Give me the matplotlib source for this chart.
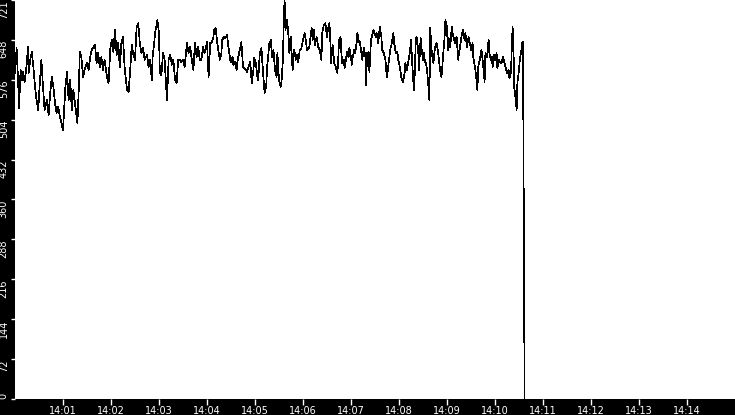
import numpy as np
import matplotlib
matplotlib.use("Agg")
import matplotlib.pyplot as plt

# seconds after 14:00:00
seconds = [
    0, 2, 4, 5, 7, 9, 10, 12, 15, 16,
    17, 19, 21, 23, 25, 27, 29, 31, 33, 35,
    37, 40, 42, 44, 46, 48, 50, 52, 54, 56,
    58, 60, 61, 63, 65, 67, 69, 71, 73, 75,
    77, 78, 80, 81, 83, 85, 87, 90, 92, 94,
    96, 98, 100, 102, 104, 106, 108, 110, 112, 115,
    117, 119, 121, 123, 125, 127, 129, 131, 133, 135,
    137, 140, 142, 144, 146, 148, 150, 152, 154, 155,
    156, 158, 160, 162, 165, 167, 169, 171, 172, 174,
    175, 177, 178, 180, 181, 183, 185, 187, 190, 192,
    194, 196, 198, 200, 202, 204, 206, 208, 210, 212,
    215, 217, 219, 221, 223, 225, 227, 229, 231, 233,
    235, 237, 240, 242, 244, 246, 248, 249, 251, 252,
    254, 256, 258, 259, 261, 263, 265, 267, 269, 270,
    272, 273, 275, 277, 278, 280, 282, 283, 285, 287,
    290, 292, 294, 296, 298, 299, 301, 303, 304, 306,
    308, 310, 312, 314, 315, 318, 320, 321, 323, 325,
    327, 328, 330, 332, 333, 335, 336, 337, 338, 340,
    342, 343, 345, 346, 347, 349, 351, 353, 354, 356,
    358, 360, 362, 363, 365, 368, 370, 371, 372, 374,
    375, 377, 379, 381, 383, 384, 386, 388, 390, 391,
    393, 394, 395, 397, 398, 399, 401, 403, 404, 405,
    407, 408, 409, 411, 412, 414, 415, 417, 418, 420,
    421, 422, 424, 425, 427, 428, 430, 431, 433, 434,
    436, 438, 439, 440, 442, 443, 445, 446, 448, 449,
    451, 452, 454, 456, 458, 459, 461, 463, 464, 465,
    467, 469, 471, 473, 474, 476, 478, 479, 481, 483,
    485, 487, 488, 490, 492, 494, 495, 497, 498, 499,
    501, 502, 504, 505, 507, 508, 510, 511, 512, 514,
    515, 517, 518, 519, 521, 523, 525, 527, 529, 531,
    533, 534, 535, 537, 538, 540, 541, 542, 544, 546,
    547, 549, 550, 552, 554, 555, 557, 558, 560, 562,
    563, 565, 567, 569, 570, 572, 573, 575, 577, 578,
    579, 581, 583, 585, 587, 588, 590, 592, 593, 595,
    596, 597, 599, 600, 602, 603, 605, 606, 608, 610,
    613, 615, 617, 618, 620, 621, 622, 623, 624, 626,
    627, 628, 630, 631, 633, 634, 635, 636, 637,
]

values = [
    589, 634, 571, 526, 595, 576, 591, 573, 609, 636,
    589, 613, 627, 600, 564, 540, 522, 571, 613, 564,
    522, 540, 513, 553, 582, 564, 535, 517, 528, 510,
    499, 486, 513, 564, 591, 540, 576, 522, 558, 535,
    513, 499, 571, 627, 618, 582, 595, 607, 595, 618,
    631, 636, 640, 607, 625, 600, 618, 595, 613, 582,
    571, 631, 649, 627, 667, 622, 643, 600, 643, 654,
    600, 558, 555, 595, 640, 622, 613, 672, 679, 663,
    643, 625, 634, 613, 622, 600, 613, 576, 618, 643,
    661, 676, 685, 661, 589, 585, 625, 613, 540, 613,
    622, 604, 613, 576, 571, 613, 613, 609, 613, 600,
    643, 625, 636, 613, 595, 643, 618, 636, 613, 613,
    636, 625, 645, 582, 643, 645, 654, 667, 670, 654,
    631, 613, 625, 649, 654, 652, 658, 634, 613, 609,
    618, 604, 609, 595, 609, 625, 636, 645, 600, 598,
    591, 600, 609, 571, 595, 616, 607, 582, 576, 625,
    634, 591, 553, 564, 598, 643, 649, 618, 631, 595,
    582, 625, 576, 564, 571, 616, 688, 721, 667, 685,
    654, 625, 654, 618, 595, 631, 613, 622, 609, 631,
    634, 649, 661, 654, 631, 636, 663, 670, 649, 667,
    640, 654, 636, 631, 613, 661, 676, 679, 654, 667,
    679, 654, 607, 640, 625, 607, 600, 589, 613, 649,
    654, 625, 607, 613, 598, 618, 627, 618, 634, 618,
    604, 616, 631, 625, 643, 661, 645, 645, 625, 613,
    634, 618, 567, 625, 627, 591, 649, 654, 667, 663,
    654, 661, 643, 672, 654, 631, 625, 613, 595, 582,
    607, 631, 643, 661, 643, 625, 627, 613, 600, 580,
    573, 589, 607, 595, 613, 631, 649, 595, 573, 558,
    649, 654, 631, 595, 652, 636, 613, 625, 613, 604,
    595, 562, 540, 670, 625, 607, 636, 643, 625, 598,
    582, 598, 618, 654, 685, 672, 631, 652, 636, 672,
    661, 649, 643, 654, 613, 625, 643, 654, 667, 649,
    661, 636, 654, 640, 631, 643, 616, 600, 576, 558,
    600, 613, 631, 607, 573, 625, 618, 649, 625, 613,
    618, 600, 622, 613, 625, 598, 613, 609, 607, 618,
    600, 589, 595, 580, 591, 636, 672, 643, 564, 540,
    522, 571, 595, 613, 631, 643, 645, 328, 0,
]

y_max = 721
x_end = 900  # 14:15
minute_ticks = list(range(60, 900, 60))
minute_labels = ["14:%02d" % (s // 60) for s in minute_ticks]

fig = plt.figure(figsize=(7.35, 4.15), dpi=100, facecolor="black")
ax = fig.add_axes([15 / 735, 16 / 415, 720 / 735, 399 / 415], facecolor="white")

ax.plot(seconds, values, color="black", lw=0.5, antialiased=False)

ax.set_xlim(0, x_end)
ax.set_ylim(0, y_max)
for s in ax.spines.values():
    s.set_visible(False)

ax.set_xticks(minute_ticks)
ax.set_xticklabels(minute_labels)
yt = np.linspace(0, y_max, 11)
ax.set_yticks(yt)
ax.set_yticklabels([str(int(v)) for v in yt])

ax.tick_params(axis="x", colors="white", length=4, width=1, pad=1, labelsize=7)
ax.tick_params(axis="y", colors="white", length=3, width=1, pad=1.5, labelsize=7)
for i, lab in enumerate(ax.get_yticklabels()):
    lab.set_rotation(90)
    lab.set_horizontalalignment("right")
    lab.set_verticalalignment("bottom" if i == 0 else "top")

fig.savefig("out.png", dpi=100, facecolor="black")
